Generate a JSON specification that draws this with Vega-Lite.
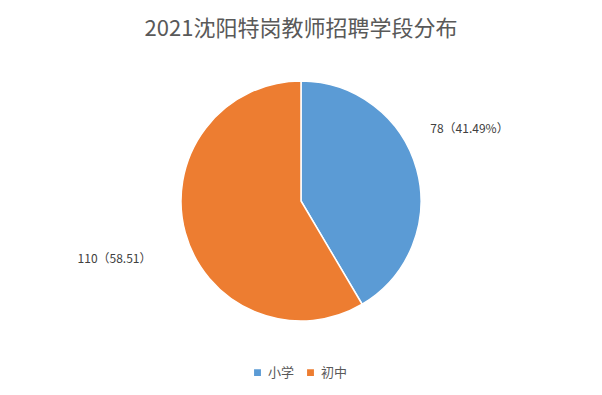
{
  "$schema": "https://vega.github.io/schema/vega-lite/v6.json",
  "width": 602,
  "height": 395,
  "autosize": {"type": "fit", "contains": "padding"},
  "padding": {"top": 18, "bottom": 46, "left": 5, "right": 5},
  "background": "white",
  "title": {
    "text": "2021沈阳特岗教师招聘学段分布",
    "font": "Noto Sans CJK SC",
    "fontSize": 22,
    "fontWeight": "normal",
    "color": "#595959",
    "anchor": "middle",
    "offset": 12
  },
  "data": {
    "values": [
      {"stage": "小学", "count": 78, "label": "78（41.49%）", "order": 1},
      {"stage": "初中", "count": 110, "label": "110（58.51）", "order": 2}
    ]
  },
  "encoding": {
    "theta": {"field": "count", "type": "quantitative", "stack": true},
    "order": {"field": "order", "type": "quantitative"}
  },
  "layer": [
    {
      "mark": {"type": "arc", "outerRadius": 120, "stroke": "white", "strokeWidth": 1.5},
      "encoding": {
        "color": {
          "field": "stage",
          "type": "nominal",
          "scale": {"domain": ["小学", "初中"], "range": ["#5B9BD5", "#ED7D31"]},
          "legend": {
            "title": null,
            "orient": "none",
            "legendX": 246,
            "legendY": 313,
            "direction": "horizontal",
            "symbolType": "square",
            "symbolSize": 70,
            "labelFont": "Noto Sans CJK SC",
            "labelFontSize": 13,
            "labelColor": "#595959",
            "columnPadding": 8
          }
        }
      }
    },
    {
      "mark": {"type": "text", "radius": 189, "thetaOffset": -0.084, "dx": -9, "dy": -7, "font": "Noto Sans CJK SC", "fontSize": 12, "color": "#404040"},
      "encoding": {"text": {"field": "label", "type": "nominal"}}
    }
  ],
  "config": {"view": {"stroke": null}}
}
